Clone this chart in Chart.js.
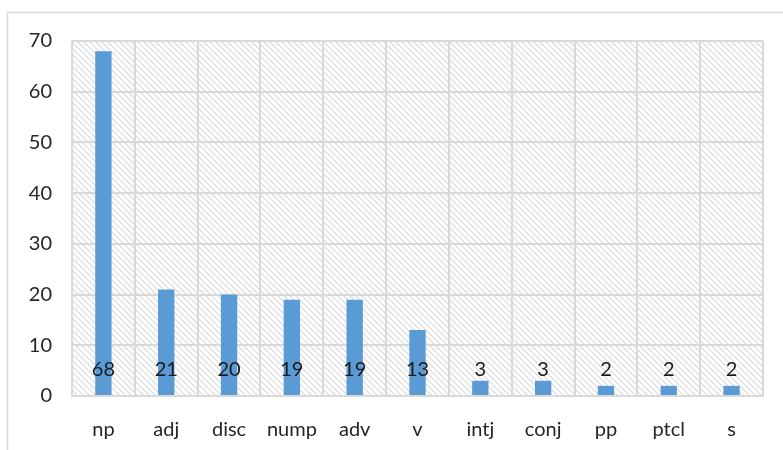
<!DOCTYPE html>
<html>
<head>
<meta charset="utf-8">
<script src="https://cdn.jsdelivr.net/npm/chart.js@4"></script>
<style>
html,body{margin:0;padding:0;background:#fff;}
#wrap{width:783px;height:450px;position:relative;}
</style>
</head>
<body>
<div id="wrap"><canvas id="c" width="783" height="450"></canvas></div>
<script>
const categories = ['np','adj','disc','nump','adv','v','intj','conj','pp','ptcl','s'];
const counts = [68,21,20,19,19,13,3,3,2,2,2];
const yTicks = [0,10,20,30,40,50,60,70];

const FONT = 'Lato, "Open Sans", sans-serif';

function makePattern(ctx){
  const t = document.createElement('canvas');
  t.width = 6; t.height = 6;
  const g = t.getContext('2d');
  g.fillStyle = '#ffffff';
  g.fillRect(0,0,6,6);
  g.strokeStyle = '#dedede';
  g.lineWidth = 1.3;
  g.beginPath();
  g.moveTo(-1,-1); g.lineTo(7,7);
  g.moveTo(-7,-1); g.lineTo(1,7);
  g.moveTo(5,-1); g.lineTo(13,7);
  g.stroke();
  return ctx.createPattern(t,'repeat');
}

const bgPlugin = {
  id:'bg',
  beforeDraw(chart){
    const ctx = chart.ctx;
    const a = chart.chartArea;
    ctx.save();
    ctx.fillStyle = '#ffffff';
    ctx.fillRect(0,0,chart.width,chart.height);
    ctx.strokeStyle = '#d9d9d9';
    ctx.lineWidth = 1.5;
    ctx.beginPath();
    ctx.moveTo(7.5, chart.height);
    ctx.lineTo(7.5, 12.5);
    ctx.lineTo(chart.width, 12.5);
    ctx.stroke();
    ctx.fillStyle = makePattern(ctx);
    ctx.fillRect(a.left, a.top, a.right-a.left, a.bottom-a.top);
    ctx.restore();
  }
};

const labelPlugin = {
  id:'vlabels',
  afterDatasetsDraw(chart){
    const ctx = chart.ctx;
    const meta = chart.getDatasetMeta(0);
    const base = chart.scales.y.getPixelForValue(0);
    ctx.save();
    ctx.font = '20px ' + FONT;
    ctx.fillStyle = '#1a1a1a';
    ctx.textAlign = 'center';
    ctx.textBaseline = 'middle';
    meta.data.forEach((bar,i)=>{
      ctx.fillText(String(counts[i]), bar.x, base - 26);
    });
    ctx.restore();
  }
};

new Chart(document.getElementById('c'), {
  type:'bar',
  data:{
    labels: categories,
    datasets:[{
      data: counts,
      backgroundColor:'#5b9bd5',
      borderWidth:0,
      barPercentage:0.26,
      categoryPercentage:1.0
    }]
  },
  plugins:[bgPlugin, labelPlugin],
  options:{
    responsive:false,
    animation:false,
    devicePixelRatio:1,
    layout:{padding:{left:0,top:41,right:20,bottom:0}},
    plugins:{legend:{display:false},tooltip:{enabled:false}},
    scales:{
      x:{
        offset:true,
        grid:{color:'#d9d9d9',lineWidth:2,drawTicks:false,offset:true},
        border:{color:'#d9d9d9',width:2},
        ticks:{color:'#262626',font:{family:FONT,size:20},padding:22,maxRotation:0},
        afterFit(s){ s.height = 54; }
      },
      y:{
        min:0,max:70,
        afterBuildTicks(s){ s.ticks = yTicks.map(v=>({value:v})); },
        grid:{color:'#d9d9d9',lineWidth:2,drawTicks:false},
        border:{display:false},
        ticks:{color:'#262626',font:{family:FONT,size:20},padding:20},
        afterFit(s){ s.width = 72; }
      }
    }
  }
});
</script>
</body>
</html>
